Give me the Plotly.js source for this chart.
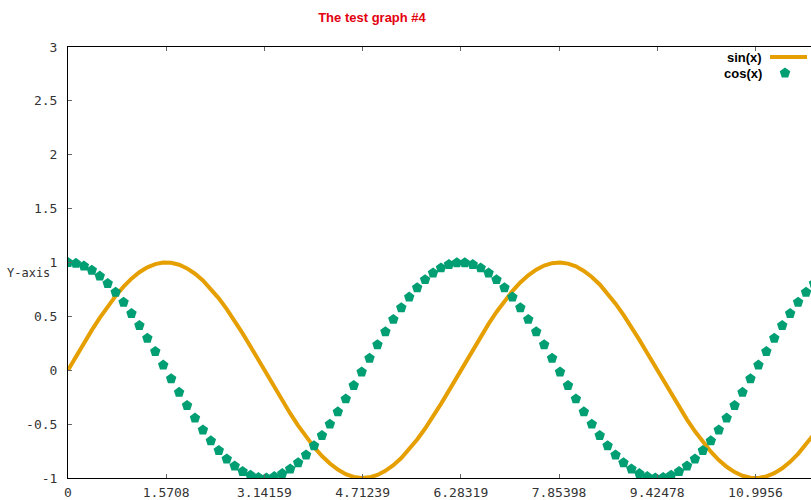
<!DOCTYPE html>
<html>
<head>
<meta charset="utf-8">
<script src="https://cdn.plot.ly/plotly-3.0.1.min.js"></script>
<style>
  html, body { margin: 0; padding: 0; background: #fff; overflow: hidden; }
  #chart { width: 811px; height: 500px; }
</style>
</head>
<body>
<div id="chart"></div>
<script>
// Sample points: 100 samples over [0, 4*pi]
const xs = [
  0, 0.127, 0.254, 0.381, 0.508, 0.635, 0.762, 0.889, 1.015, 1.142,
  1.269, 1.396, 1.523, 1.650, 1.777, 1.904, 2.031, 2.158, 2.285, 2.412,
  2.539, 2.666, 2.793, 2.919, 3.046, 3.173, 3.300, 3.427, 3.554, 3.681,
  3.808, 3.935, 4.062, 4.189, 4.316, 4.443, 4.570, 4.697, 4.823, 4.950,
  5.077, 5.204, 5.331, 5.458, 5.585, 5.712, 5.839, 5.966, 6.093, 6.220,
  6.347, 6.474, 6.601, 6.727, 6.854, 6.981, 7.108, 7.235, 7.362, 7.489,
  7.616, 7.743, 7.870, 7.997, 8.124, 8.251, 8.378, 8.505, 8.631, 8.758,
  8.885, 9.012, 9.139, 9.266, 9.393, 9.520, 9.647, 9.774, 9.901, 10.028,
  10.155, 10.282, 10.409, 10.535, 10.662, 10.789, 10.916, 11.043, 11.170, 11.297,
  11.424, 11.551, 11.678, 11.805, 11.932, 12.059, 12.186, 12.313, 12.439, 12.566
];

// sin(x) at each sample
const sinValues = [
  0, 0.127, 0.251, 0.372, 0.486, 0.593, 0.690, 0.776, 0.850, 0.910,
  0.955, 0.985, 0.999, 0.997, 0.979, 0.945, 0.896, 0.833, 0.756, 0.667,
  0.567, 0.458, 0.342, 0.220, 0.095, -0.032, -0.158, -0.282, -0.401, -0.514,
  -0.618, -0.713, -0.796, -0.866, -0.922, -0.964, -0.990, -1.000, -0.994, -0.972,
  -0.934, -0.881, -0.815, -0.735, -0.643, -0.541, -0.430, -0.312, -0.189, -0.063,
  0.063, 0.189, 0.312, 0.430, 0.541, 0.643, 0.735, 0.815, 0.881, 0.934,
  0.972, 0.994, 1.000, 0.990, 0.964, 0.922, 0.866, 0.796, 0.713, 0.618,
  0.514, 0.401, 0.282, 0.158, 0.032, -0.095, -0.220, -0.342, -0.458, -0.567,
  -0.667, -0.756, -0.833, -0.896, -0.945, -0.979, -0.997, -0.999, -0.985, -0.955,
  -0.910, -0.850, -0.776, -0.690, -0.593, -0.486, -0.372, -0.251, -0.127, 0
];

// cos(x) at each sample
const cosValues = [
  1, 0.992, 0.968, 0.928, 0.874, 0.805, 0.724, 0.631, 0.527, 0.415,
  0.297, 0.174, 0.048, -0.079, -0.205, -0.327, -0.444, -0.554, -0.655, -0.745,
  -0.824, -0.889, -0.940, -0.975, -0.995, -1.000, -0.987, -0.959, -0.916, -0.858,
  -0.786, -0.701, -0.606, -0.500, -0.386, -0.266, -0.142, -0.016, 0.111, 0.236,
  0.357, 0.472, 0.580, 0.679, 0.766, 0.841, 0.903, 0.950, 0.982, 0.998,
  0.998, 0.982, 0.950, 0.903, 0.841, 0.766, 0.679, 0.580, 0.472, 0.357,
  0.236, 0.111, -0.016, -0.142, -0.266, -0.386, -0.500, -0.606, -0.701, -0.786,
  -0.858, -0.916, -0.959, -0.987, -1.000, -0.995, -0.975, -0.940, -0.889, -0.824,
  -0.745, -0.655, -0.554, -0.444, -0.327, -0.205, -0.079, 0.048, 0.174, 0.297,
  0.415, 0.527, 0.631, 0.724, 0.805, 0.874, 0.928, 0.968, 0.992, 1
];

// Axis tick labels (multiples of pi/2 on x)
const xTickLabels = ["0", "1.5708", "3.14159", "4.71239", "6.28319", "7.85398", "9.42478", "10.9956"];
const yTickLabels = ["-1", "-0.5", "0", "0.5", "1", "1.5", "2", "2.5", "3"];

const seriesNames = ["sin(x)", "cos(x)"];
const ORANGE = "#E69F00";
const GREEN = "#009E73";

// plot box in pixels
const W = 811, H = 500, ML = 68, MT = 47, MB = 22, MR = 0;
const PW = W - ML - MR, PH = H - MT - MB;
const px = v => (v - ML) / PW;          // page x -> paper x
const py = v => (H - MB - v) / PH;      // page y -> paper y

const tickFont = { family: "DejaVu Sans Mono, monospace", size: 13, color: "#333" };
const axisTitleFont = { family: "DejaVu Sans Mono, monospace", size: 12, color: "#333" };
const keyFont = { family: "Liberation Sans, Arial, sans-serif", size: 13, color: "#000", weight: "bold" };

const traces = [
  {
    x: xs, y: sinValues, name: seriesNames[0], type: "scatter", mode: "lines",
    line: { color: ORANGE, width: 4 }
  },
  {
    x: xs, y: cosValues, name: seriesNames[1], type: "scatter", mode: "markers",
    marker: { color: GREEN, symbol: "pentagon", size: 11, line: { width: 0 } }
  }
];

// pentagon glyph for the key (pixel path around its anchor)
function pentagonPath(r) {
  const pts = [];
  for (let i = 0; i < 5; i++) {
    const a = Math.PI / 2 + i * 2 * Math.PI / 5;
    pts.push((r * Math.cos(a)).toFixed(2) + "," + (r * Math.sin(a)).toFixed(2));
  }
  return "M" + pts.join("L") + "Z";
}

const layout = {
  width: W, height: H,
  margin: { l: ML, r: MR, t: MT, b: MB, pad: 0 },
  paper_bgcolor: "#fff", plot_bgcolor: "#fff",
  showlegend: false,
  title: {
    text: "The test graph #4",
    font: { family: "Liberation Sans, Arial, sans-serif", size: 13, color: "#e3000f", weight: "bold" },
    x: 372 / W, xanchor: "center", xref: "container",
    y: 1 - 17 / H, yanchor: "middle", yref: "container"
  },
  xaxis: {
    range: [0, (W - ML) / 62.52],
    tickmode: "array",
    tickvals: xTickLabels.map(Number),
    ticktext: xTickLabels,
    ticks: "inside", ticklen: 4, tickcolor: "#666", tickwidth: 1,
    showline: true, linecolor: "#000", linewidth: 1, mirror: "ticks",
    showgrid: false, zeroline: false,
    tickfont: tickFont, ticklabelstandoff: 2
  },
  yaxis: {
    range: [-1, 3],
    tickmode: "array",
    tickvals: yTickLabels.map(Number),
    ticktext: yTickLabels,
    ticks: "inside", ticklen: 4, tickcolor: "#666", tickwidth: 1,
    showline: true, linecolor: "#000", linewidth: 1,
    showgrid: false, zeroline: false,
    tickfont: tickFont, ticklabelstandoff: 7
  },
  annotations: [
    {
      text: "Y-axis", xref: "paper", yref: "paper",
      x: px(28), y: py(273), xanchor: "center", yanchor: "middle",
      showarrow: false, font: axisTitleFont
    },
    {
      text: seriesNames[0], xref: "paper", yref: "paper",
      x: px(764), y: py(57), xanchor: "right", yanchor: "middle", showarrow: false,
      font: keyFont
    },
    {
      text: seriesNames[1], xref: "paper", yref: "paper",
      x: px(764), y: py(73), xanchor: "right", yanchor: "middle", showarrow: false,
      font: keyFont
    }
  ],
  shapes: [
    {
      type: "line", xref: "paper", yref: "paper",
      x0: px(770), x1: px(807), y0: py(57), y1: py(57),
      line: { color: ORANGE, width: 4 }
    },
    {
      type: "path", xref: "paper", yref: "paper",
      xsizemode: "pixel", ysizemode: "pixel",
      xanchor: px(785), yanchor: py(73),
      path: pentagonPath(5.5),
      fillcolor: GREEN, line: { width: 0 }
    }
  ]
};

Plotly.newPlot("chart", traces, layout, { displayModeBar: false, responsive: false, staticPlot: true });
</script>
</body>
</html>
